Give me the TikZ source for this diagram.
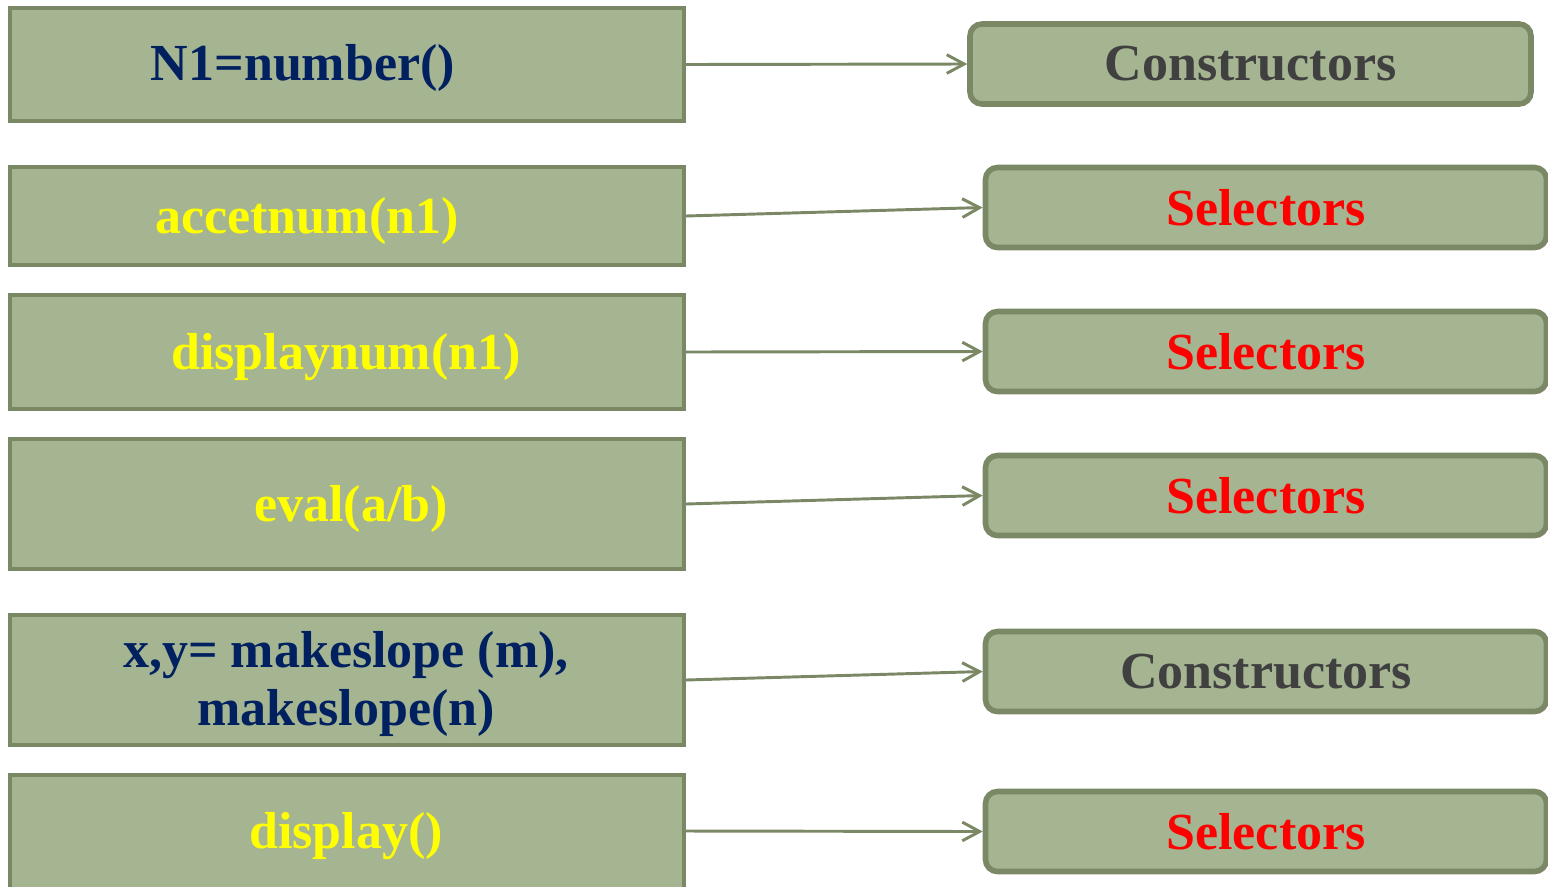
\documentclass[tikz,border=0pt]{standalone}
\usepackage{fontspec}
\setmainfont{Liberation Serif}
\usetikzlibrary{arrows.meta}
\definecolor{boxfill}{HTML}{A5B592}
\definecolor{boxline}{HTML}{7A8866}
\definecolor{navy}{HTML}{002060}
\definecolor{callyellow}{HTML}{FFFF00}
\definecolor{selred}{HTML}{FF0000}
\definecolor{consgray}{HTML}{404040}
\begin{document}
\begin{tikzpicture}[x=0.75pt,y=-0.75pt,
  callbox/.style={draw=boxline, fill=boxfill, line width=3pt, rectangle,
    minimum width=505.5pt, inner sep=0pt},
  kindbox/.style={draw=boxline, fill=boxfill, line width=4.2pt, rectangle,
    rounded corners=9pt, minimum width=420.75pt, minimum height=60pt,
    inner sep=0pt, font=\fontsize{39}{46}\selectfont\bfseries},
  lbl/.style={font=\fontsize{39}{46}\selectfont\bfseries, anchor=base, inner sep=0pt},
  link/.style={draw=boxline, line width=2.2pt,
    -{Straight Barb[length=13pt,width=14pt,line width=2.2pt]}}]
\useasboundingbox (0,0) rectangle (1548,886);
\clip (0,0) rectangle (1548,886);

% left column: calls
\node[callbox, minimum height=84.75pt] (c1) at (347,64.5) {};
\node[callbox, minimum height=73.5pt]  (c2) at (347,216) {};
\node[callbox, minimum height=85.5pt]  (c3) at (347,352) {};
\node[callbox, minimum height=97.5pt]  (c4) at (347,504) {};
\node[callbox, minimum height=97.5pt]  (c5) at (347,680) {};
\node[callbox, minimum height=97.5pt]  (c6) at (347,840) {};

\node[lbl, text=navy]        (t1)  at (303,80)  {N1=number()};
\node[lbl, text=callyellow]  (t2)  at (307,233) {accetnum(n1)};
\node[lbl, text=callyellow]  (t3)  at (346,369) {displaynum(n1)};
\node[lbl, text=callyellow]  (t4)  at (351,521) {eval(a/b)};
\node[lbl, text=navy]        (t5a) at (346,667) {x,y= makeslope (m),};
\node[lbl, text=navy]        (t5b) at (346,725) {makeslope(n)};
\node[lbl, text=callyellow]  (t6)  at (346,848) {display()};

% right column: kinds of operation
\node[kindbox, text=consgray] (k1) at (1250.5,64)  {Constructors};
\node[kindbox, text=selred]   (k2) at (1266,207.5) {Selectors};
\node[kindbox, text=selred]   (k3) at (1266,351.5) {Selectors};
\node[kindbox, text=selred]   (k4) at (1266,495.5) {Selectors};
\node[kindbox, text=consgray] (k5) at (1266,671.5) {Constructors};
\node[kindbox, text=selred]   (k6) at (1266,831.5) {Selectors};

% connectors
\coordinate (c6out) at (684,831);
\draw[link] (c1.east) -- (k1.west);
\draw[link] (c2.east) -- (k2.west);
\draw[link] (c3.east) -- (k3.west);
\draw[link] (c4.east) -- (k4.west);
\draw[link] (c5.east) -- (k5.west);
\draw[link] (c6out) -- (k6.west);
\end{tikzpicture}
\end{document}
